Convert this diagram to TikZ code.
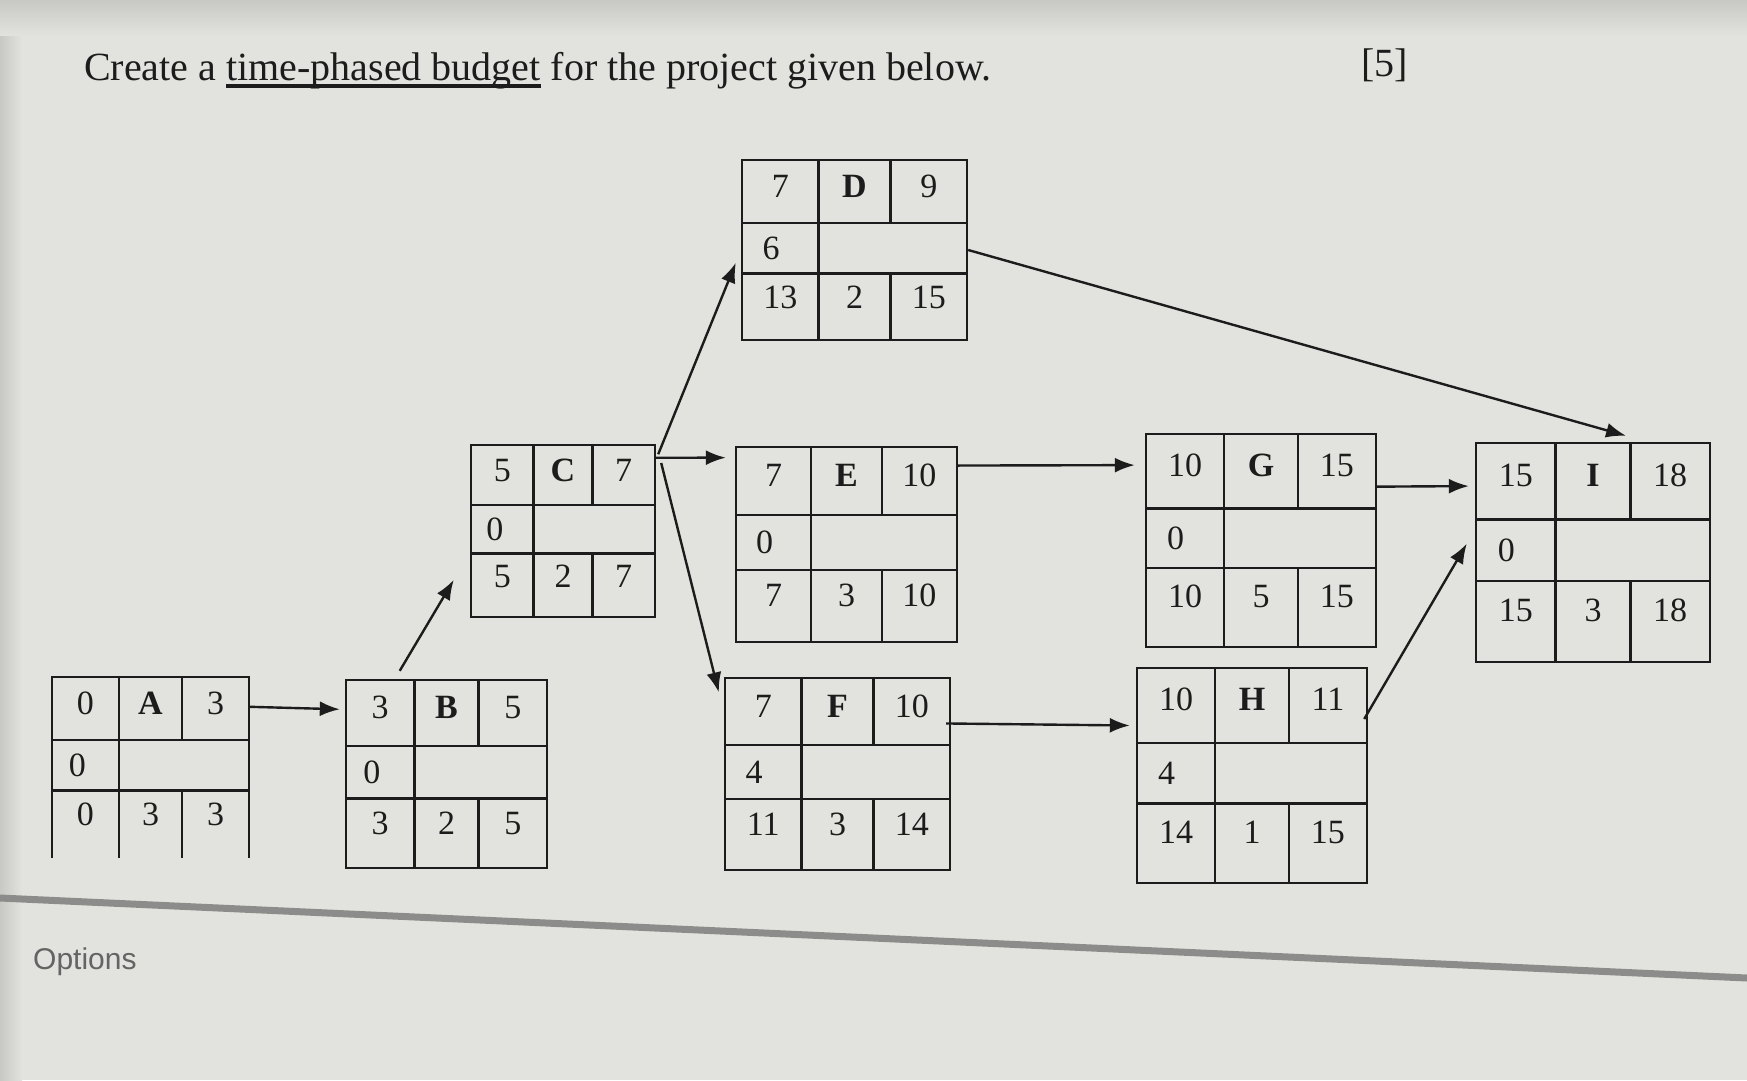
\documentclass[tikz,border=0pt]{standalone}
\usepackage{fontspec}
\setmainfont{Liberation Serif}
\newfontfamily\optfont{Liberation Sans}
\usetikzlibrary{arrows.meta,calc,fit}
\definecolor{bg}{RGB}{226,226,222}
\definecolor{bgdark}{RGB}{200,200,196}
\definecolor{ink}{RGB}{28,28,28}
\definecolor{optgray}{RGB}{100,100,100}
\definecolor{sepgray}{RGB}{140,140,138}

\newcommand\thul[1]{\setbox0\hbox{#1}\rlap{\rule[-0.19em]{\wd0}{0.08em}}\box0\relax}

\newcommand\actbox[6][]{%
  \pgfmathsetmacro\ax{#3}\pgfmathsetmacro\ay{#4}%
  \pgfmathsetmacro\bx{#5}\pgfmathsetmacro\by{#6}%
  \pgfmathsetmacro\ca{\ax+0.34*(\bx-\ax)}%
  \pgfmathsetmacro\cb{\ax+0.66*(\bx-\ax)}%
  \pgfmathsetmacro\ra{\ay+0.35*(\by-\ay)}%
  \pgfmathsetmacro\rb{\ay+0.63*(\by-\ay)}%
  \node[inner sep=0pt, outer sep=1.2pt, fit={(\ax,\ay) (\bx,\by)}] (#2) {};
  \draw[boxline] (\ax,\by) -- (\ax,\ay) -- (\bx,\ay) -- (\bx,\by);
  \draw[boxline,#1] (\ax,\by) -- (\bx,\by);
  \draw[boxline] (\ax,\ra) -- (\bx,\ra) (\ax,\rb) -- (\bx,\rb)
     (\ca,\ay) -- (\ca,\by) (\cb,\ay) -- (\cb,\ra) (\cb,\rb) -- (\cb,\by);
}
\newcommand\actvals[8]{%
  \pgfmathsetmacro\xa{(\ax+\ca)/2}\pgfmathsetmacro\xb{(\ca+\cb)/2}\pgfmathsetmacro\xc{(\cb+\bx)/2}%
  \pgfmathsetmacro\xs{\ax+0.38*(\ca-\ax)}%
  \pgfmathsetmacro\ya{\ay+0.42*(\ra-\ay)}\pgfmathsetmacro\ys{(\ra+\rb)/2}\pgfmathsetmacro\yb{\rb+0.36*(\by-\rb)}%
  \node[num] (#1-es) at (\xa,\ya) {#2};
  \node[lbl] (#1-n) at (\xb,\ya) {#3};
  \node[num] (#1-ef) at (\xc,\ya) {#4};
  \node[num] (#1-sl) at (\xs,\ys) {#5};
  \node[num] (#1-ls) at (\xa,\yb) {#6};
  \node[num] (#1-d) at (\xb,\yb) {#7};
  \node[num] (#1-lf) at (\xc,\yb) {#8};
}

\begin{document}
\begin{tikzpicture}[x=1pt,y=-1pt,
  boxline/.style={draw=ink, line width=2.4pt, line cap=rect},
  num/.style={inner sep=0pt, text=ink, font=\fontsize{34}{38}\selectfont},
  lbl/.style={num, font=\fontsize{34}{38}\selectfont\bfseries},
  arr/.style={draw=ink, line width=2.4pt, -{Latex[length=20pt,width=15pt]}},
]
\fill[bg] (0,0) rectangle (1747,1080);
\useasboundingbox (0,0) rectangle (1747,1080);
\shade[top color=bgdark, bottom color=bg] (0,0) rectangle (1747,36);
\shade[left color=bgdark, right color=bg] (0,36) rectangle (22,1080);

% title
\node[anchor=base west, inner sep=0pt, text=ink, font=\fontsize{40}{44}\selectfont] (title) at (84,80)
  {Create a \thul{time-phased budget} for the project given below.};
\node[anchor=base west, inner sep=0pt, text=ink, font=\fontsize{40}{44}\selectfont] (marks) at (1361,76) {[5]};

% activity boxes
\actbox[draw=none]{A}{52}{677}{249}{857}
\actvals{A}{0}{A}{3}{0}{0}{3}{3}
\actbox{B}{346}{680}{547}{868}
\actvals{B}{3}{B}{5}{0}{3}{2}{5}
\actbox{C}{471}{445}{655}{617}
\actvals{C}{5}{C}{7}{0}{5}{2}{7}
\actbox{D}{742}{160}{967}{340}
\actvals{D}{7}{D}{9}{6}{13}{2}{15}
\actbox{E}{736}{447}{957}{642}
\actvals{E}{7}{E}{10}{0}{7}{3}{10}
\actbox{F}{725}{678}{950}{870}
\actvals{F}{7}{F}{10}{4}{11}{3}{14}
\actbox{G}{1146}{434}{1376}{647}
\actvals{G}{10}{G}{15}{0}{10}{5}{15}
\actbox{H}{1137}{668}{1367}{883}
\actvals{H}{10}{H}{11}{4}{14}{1}{15}
\actbox{I}{1476}{443}{1710}{662}
\actvals{I}{15}{I}{18}{0}{15}{3}{18}

% connectors
\draw[arr] ($(A.north east)!0.17!(A.south east)$) -- ($(B.north west)!0.16!(B.south west)+(-5,0)$);
\draw[arr] ($(B.north west)!0.27!(B.north east)+(0,-8)$) -- ($(C.north west)!0.78!(C.south west)+(-16,0)$);
\draw[arr] ($(C.north east)!0.08!(C.south east)$) -- ($(E.north west)!0.06!(E.south west)+(-9,0)$);
\draw[arr] ($(C.north east)!0.06!(C.south east)+(2,0)$) -- ($(D.north west)!0.57!(D.south west)+(-5,0)$);
\draw[arr] ($(C.north east)!0.11!(C.south east)+(5,0)$) -- ($(F.north west)!0.08!(F.south west)+(-5,0)$);
\draw[arr] ($(E.north east)!0.10!(E.south east)$) -- ($(G.north west)!0.15!(G.south west)+(-10,0)$);
\draw[arr] ($(F.north east)!0.24!(F.south east)+(-5,0)$) -- ($(H.north west)!0.27!(H.south west)+(-6,0)$);
\draw[arr] ($(D.north east)!0.5!(D.south east)$) -- ($(I.north west)!0.64!(I.north east)+(0,-6)$);
\draw[arr] ($(G.north east)!0.25!(G.south east)$) -- ($(I.north west)!0.2!(I.south west)+(-6,0)$);
\draw[arr] ($(H.north east)!0.24!(H.south east)+(-4,0)$) -- ($(I.north west)!0.46!(I.south west)+(-8,0)$);

% separator and options
\coordinate (sepL) at (0,898);
\coordinate (sepR) at (1747,978);
\draw[sepgray, line width=7pt] (sepL) -- (sepR);
\node[anchor=west, inner sep=0pt, text=optgray, font=\optfont\fontsize{30}{34}\selectfont] (opts) at (33,962) {Options};
\end{tikzpicture}
\end{document}
